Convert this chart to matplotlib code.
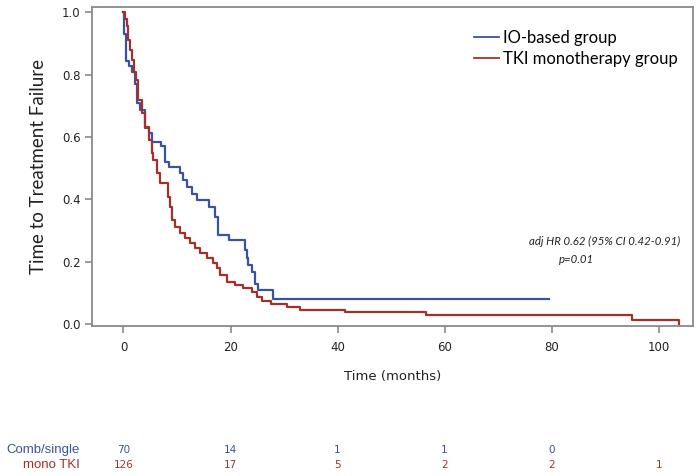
import matplotlib.pyplot as plt
from matplotlib.lines import Line2D
import matplotlib.transforms as mtransforms

# Kaplan-Meier step points
io_months = [0, 0.1, 0.5, 1.1, 1.6, 2.2, 2.5, 3.1, 4.0, 4.7, 5.3, 7.0, 7.8, 8.5,
             10.6, 11.2, 11.9, 12.8, 13.7, 15.9, 17.1, 17.7, 19.8, 22.7, 23.0,
             23.3, 24.0, 24.6, 25.2, 25.5, 28.0, 79.5]
io_surv = [1.0, 0.93, 0.843, 0.827, 0.81, 0.77, 0.71, 0.687, 0.63, 0.613, 0.586,
           0.57, 0.52, 0.505, 0.484, 0.463, 0.44, 0.418, 0.398, 0.377, 0.345,
           0.286, 0.27, 0.238, 0.211, 0.19, 0.168, 0.13, 0.109, 0.109, 0.082, 0.082]

tki_months = [0, 0.3, 0.6, 0.9, 1.25, 1.6, 1.9, 2.4, 2.8, 3.4, 4.0, 4.7, 5.3, 5.6,
              6.2, 6.8, 8.4, 8.7, 9.0, 9.6, 10.6, 11.5, 12.5, 13.4, 14.3, 15.6,
              16.8, 17.4, 18.0, 19.3, 20.8, 22.4, 24.0, 24.9, 25.8, 27.6, 30.5,
              33.0, 41.4, 56.5, 95.0, 103.7]
tki_surv = [1.0, 0.98, 0.955, 0.912, 0.88, 0.848, 0.81, 0.784, 0.72, 0.678, 0.634,
            0.59, 0.549, 0.527, 0.484, 0.452, 0.409, 0.377, 0.334, 0.313, 0.292,
            0.275, 0.259, 0.243, 0.227, 0.211, 0.195, 0.179, 0.157, 0.136, 0.125,
            0.115, 0.104, 0.088, 0.074, 0.064, 0.056, 0.047, 0.038, 0.028, 0.015, 0.0]

# numbers at risk
risk_times = [0, 20, 40, 60, 80, 100]
risk_io = [70, 14, 1, 1, 0]
risk_tki = [126, 17, 5, 2, 2, 1]

blue = '#3853a4'
red = '#a5302a'
frame = '#8a8a8a'

fig = plt.figure(figsize=(7, 4.76), dpi=100)
ax = fig.add_axes([0.132, 0.315, 0.858, 0.670])

ax.step(io_months, io_surv, where='post', color=blue, lw=1.6)
ax.step(tki_months, tki_surv, where='post', color=red, lw=1.6)

ax.set_xlim(-5.8, 106.4)
ax.set_ylim(-0.006, 1.017)
ax.set_xticks(range(0, 101, 20))
ax.set_yticks([0.0, 0.2, 0.4, 0.6, 0.8, 1.0])
ax.set_yticklabels(['0.0', '0.2', '0.4', '0.6', '0.8', '1.0'])
ax.tick_params(colors=frame, labelcolor='#222222', labelsize=8.5, length=5, width=1.2)
ax.tick_params(axis='x', pad=6)
for s in ax.spines.values():
    s.set_color(frame)
    s.set_linewidth(1.3)

ax.set_xlabel('Time (months)', fontsize=9.5, color='#222222', labelpad=11)
ax.set_ylabel('Time to Treatment Failure', fontsize=13.5, family='Lato',
              color='#222222', labelpad=11)

handles = [Line2D([], [], color=blue, lw=1.3), Line2D([], [], color=red, lw=1.3)]
ax.legend(handles, ['IO-based group', 'TKI monotherapy group'], loc='upper right',
          bbox_to_anchor=(1.0, 0.975), frameon=False, handlelength=1.5,
          handletextpad=0.25, labelspacing=0.3,
          prop={'family': 'Lato', 'size': 12})

ax.text(0.853, 0.265, 'adj HR 0.62 (95% CI 0.42-0.91)', transform=ax.transAxes,
        ha='center', va='center', style='italic', family='Lato', fontsize=8.2,
        color='#222222')
ax.text(0.806, 0.209, 'p=0.01', transform=ax.transAxes, ha='center', va='center',
        style='italic', family='Lato', fontsize=8.2, color='#222222')

# at-risk table under the plot, aligned to the x axis
trans = mtransforms.blended_transform_factory(ax.transData, fig.transFigure)
y_io, y_tki = 1 - 450 / 476, 1 - 465 / 476
fig.text(80 / 700, y_io, 'Comb/single', ha='right', va='center', color=blue,
         family='Liberation Sans', fontsize=9.5)
fig.text(80 / 700, y_tki, 'mono TKI', ha='right', va='center', color=red,
         family='Liberation Sans', fontsize=9.5)
for t, n in zip(risk_times, risk_io):
    ax.text(t, y_io, str(n), transform=trans, ha='center', va='center',
            color=blue, fontsize=7.5, clip_on=False)
for t, n in zip(risk_times, risk_tki):
    ax.text(t, y_tki, str(n), transform=trans, ha='center', va='center',
            color=red, fontsize=7.5, clip_on=False)

fig.savefig('out.png', dpi=100)
